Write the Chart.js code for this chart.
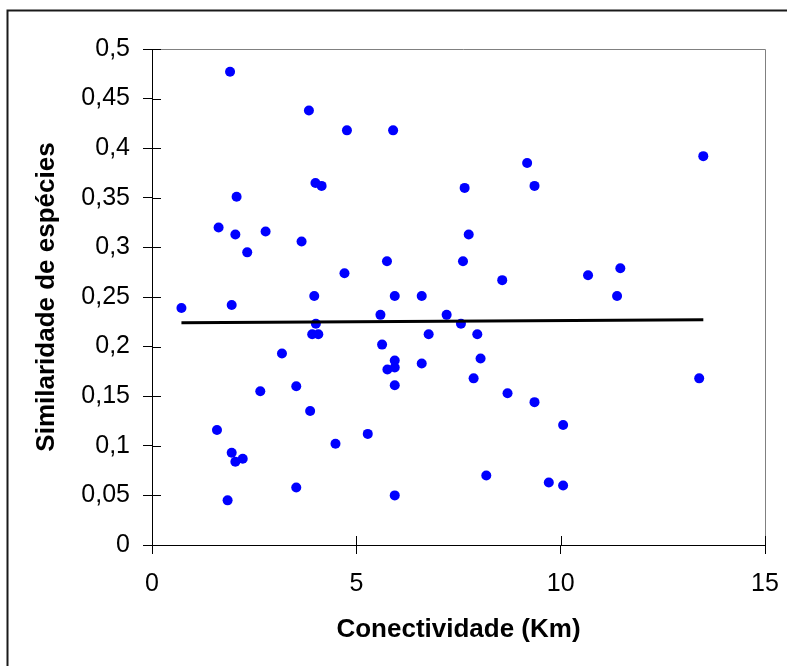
<!DOCTYPE html>
<html>
<head>
<meta charset="utf-8">
<script src="https://cdn.jsdelivr.net/npm/chart.js@4/dist/chart.umd.min.js"></script>
<style>
  html, body { margin: 0; padding: 0; background: #fff; }
  #wrap { width: 787px; height: 666px; position: relative; }
</style>
</head>
<body>
<div id="wrap"><canvas id="chart" width="787" height="666"></canvas></div>
<script>
// conectividade (km) x similaridade de espécies
const conectividade = [
  0.72, 1.91, 1.63, 2.04, 2.07, 1.95, 2.33, 2.78, 3.84, 4.77,
  5.90, 4.00, 4.15, 3.66, 5.75, 4.71, 3.97, 5.94, 6.60, 7.65,
  7.75, 7.61, 8.57, 9.18, 9.36, 13.49, 10.67, 11.46, 11.38, 5.59,
  7.21, 7.56, 4.01, 3.92, 4.07, 6.77, 5.63, 3.18, 5.94, 5.76,
  5.94, 6.60, 5.94, 3.53, 2.65, 3.87, 5.28, 1.59, 4.49, 1.95,
  2.04, 2.22, 3.53, 1.85, 5.94, 7.96, 8.04, 7.87, 8.70, 9.36,
  10.06, 13.39, 8.18, 9.71, 10.06
];
const similaridade = [
  0.239, 0.477, 0.320, 0.313, 0.351, 0.242, 0.295, 0.316, 0.438, 0.418,
  0.418, 0.365, 0.362, 0.306, 0.286, 0.274, 0.251, 0.251, 0.251, 0.360,
  0.313, 0.286, 0.267, 0.385, 0.362, 0.392, 0.272, 0.279, 0.251, 0.232,
  0.232, 0.223, 0.223, 0.2125, 0.2125, 0.2125, 0.202, 0.193, 0.186, 0.177,
  0.179, 0.183, 0.161, 0.160, 0.155, 0.135, 0.112, 0.116, 0.102, 0.093,
  0.084, 0.087, 0.058, 0.045, 0.050, 0.2125, 0.188, 0.168, 0.153, 0.144,
  0.121, 0.168, 0.070, 0.063, 0.060
];

// linha de tendência (extremos)
const tendenciaX = [0.72, 13.49];
const tendenciaY = [0.224, 0.227];

const xTickValues = [0, 5, 10, 15];
const xTickLabels = ['0', '5', '10', '15'];
const yTickValues = [0, 0.05, 0.1, 0.15, 0.2, 0.25, 0.3, 0.35, 0.4, 0.45, 0.5];
const yTickLabels = ['0', '0,05', '0,1', '0,15', '0,2', '0,25', '0,3', '0,35', '0,4', '0,45', '0,5'];

const FONT = 'Liberation Sans, Arial, sans-serif';

const pontos = conectividade.map((x, i) => ({ x: x, y: similaridade[i] }));
const tendencia = tendenciaX.map((x, i) => ({ x: x, y: tendenciaY[i] }));

// moldura externa, borda cinza da área de plotagem e marcas cruzando os eixos
const frame = {
  id: 'frame',
  beforeDraw(chart) {
    const ctx = chart.ctx;
    ctx.save();
    ctx.fillStyle = '#fff';
    ctx.fillRect(0, 0, chart.width, chart.height);
    ctx.strokeStyle = '#1a1a1a';
    ctx.lineWidth = 2;
    ctx.beginPath();
    ctx.moveTo(7.5, chart.height);
    ctx.lineTo(7.5, 10.5);
    ctx.lineTo(chart.width, 10.5);
    ctx.stroke();
    ctx.restore();
  },
  afterDatasetsDraw(chart) {
    const { ctx, chartArea: a, scales } = chart;
    ctx.save();
    ctx.lineWidth = 1;
    ctx.strokeStyle = '#808080';
    ctx.beginPath();
    ctx.moveTo(a.left + 9, a.top + 0.5);
    ctx.lineTo(a.right + 0.5, a.top + 0.5);
    ctx.lineTo(a.right + 0.5, a.bottom - 9);
    ctx.stroke();
    ctx.strokeStyle = '#000';
    ctx.beginPath();
    scales.y.ticks.forEach(t => {
      const py = Math.round(scales.y.getPixelForValue(t.value)) + 0.5;
      ctx.moveTo(a.left, py);
      ctx.lineTo(a.left + 9, py);
    });
    scales.x.ticks.forEach(t => {
      const px = Math.round(scales.x.getPixelForValue(t.value)) + 0.5;
      ctx.moveTo(px, a.bottom);
      ctx.lineTo(px, a.bottom - 9);
    });
    ctx.stroke();
    ctx.restore();
  }
};

new Chart(document.getElementById('chart').getContext('2d'), {
  type: 'scatter',
  data: {
    datasets: [
      {
        type: 'line',
        data: tendencia,
        borderColor: '#000',
        borderWidth: 3,
        pointRadius: 0,
        fill: false,
        order: 0
      },
      {
        data: pontos,
        backgroundColor: '#0000ff',
        borderWidth: 0,
        pointRadius: 5,
        pointHoverRadius: 5,
        order: 1
      }
    ]
  },
  plugins: [frame],
  options: {
    responsive: false,
    animation: false,
    events: [],
    layout: { padding: { left: 0, top: 49, right: 22, bottom: 0 } },
    plugins: {
      legend: { display: false },
      tooltip: { enabled: false }
    },
    scales: {
      x: {
        type: 'linear',
        min: 0,
        max: 15,
        afterFit: s => {
          s.height = 121;
          s.paddingLeft = 0;
          s.paddingRight = 0;
        },
        afterBuildTicks: s => { s.ticks = xTickValues.map(v => ({ value: v })); },
        border: { color: '#000', width: 1 },
        grid: { drawOnChartArea: false, tickLength: 9, color: '#000' },
        ticks: {
          color: '#000',
          padding: 15,
          font: { family: FONT, size: 25 },
          callback: (v, i) => xTickLabels[i]
        },
        title: {
          display: true,
          text: 'Conectividade (Km)',
          color: '#000',
          font: { family: FONT, size: 26, weight: 'bold' },
          padding: { top: 0, bottom: 21 }
        }
      },
      y: {
        type: 'linear',
        min: 0,
        max: 0.5,
        afterFit: s => {
          s.width = 152;
          s.paddingTop = 0;
          s.paddingBottom = 0;
        },
        afterBuildTicks: s => { s.ticks = yTickValues.map(v => ({ value: v })); },
        border: { color: '#000', width: 1 },
        grid: { drawOnChartArea: false, tickLength: 9, color: '#000' },
        ticks: {
          color: '#000',
          padding: 13,
          font: { family: FONT, size: 25 },
          callback: (v, i) => yTickLabels[i]
        },
        title: {
          display: true,
          text: 'Similaridade de espécies',
          color: '#000',
          font: { family: FONT, size: 26, weight: 'bold' },
          padding: { top: 31, bottom: 0 }
        }
      }
    }
  }
});
</script>
</body>
</html>
